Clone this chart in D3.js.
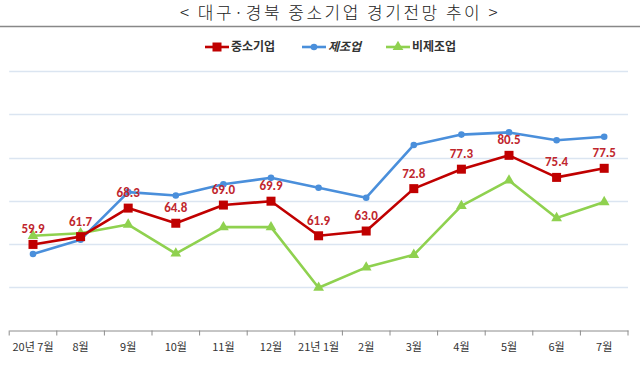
<!DOCTYPE html>
<html>
<head>
<meta charset="utf-8">
<script src="https://cdn.jsdelivr.net/npm/d3@7"></script>
<style>
  body { margin: 0; background: #fff; }
  svg { display: block; }
</style>
</head>
<body>
<svg id="chart" width="640" height="365"></svg>
<script>
// month labels along the x axis
var months = ["20년 7월", "8월", "9월", "10월", "11월", "12월", "21년 1월", "2월", "3월", "4월", "5월", "6월", "7월"];

// SME outlook index (labelled series)
var smeValues = [59.9, 61.7, 68.3, 64.8, 69.0, 69.9, 61.9, 63.0, 72.8, 77.3, 80.5, 75.4, 77.5];
// manufacturing
var mfgValues = [57.7, 61.0, 72.0, 71.2, 73.8, 75.3, 73.0, 70.7, 82.9, 85.3, 85.8, 84.0, 84.8];
// non-manufacturing
var nonMfgValues = [61.9, 62.5, 64.5, 57.8, 63.9, 63.9, 49.9, 54.6, 57.5, 68.8, 74.7, 66.0, 69.7];

var yTicks = [40, 50, 60, 70, 80, 90, 100];

var svg = d3.select("#chart");

var plotLeft = 9.2, plotRight = 628, plotTop = 71, plotBottom = 330.5;

var x = d3.scaleBand().domain(months).range([plotLeft, plotRight]);
var y = d3.scaleLinear().domain([40, 100]).range([plotBottom, plotTop]);

var series = [
  { name: "중소기업", values: smeValues, color: "#c00000", marker: "square", italic: false },
  { name: "제조업", values: mfgValues, color: "#4a8fdb", marker: "circle", italic: true },
  { name: "비제조업", values: nonMfgValues, color: "#8fd14f", marker: "triangle", italic: false }
];

// title and the rule under it
svg.append("text")
  .attr("x", 340)
  .attr("y", 19)
  .attr("text-anchor", "middle")
  .attr("font-family", "'Noto Sans CJK KR', sans-serif")
  .attr("font-size", 17)
  .attr("font-weight", 300)
  .attr("letter-spacing", 2.5)
  .attr("fill", "#222")
  .text("< 대구·경북  중소기업  경기전망  추이 >");

svg.append("line")
  .attr("x1", 0).attr("x2", 640)
  .attr("y1", 26.5).attr("y2", 26.5)
  .attr("stroke", "#888").attr("stroke-width", 1.5);

// horizontal gridlines
svg.append("g")
  .selectAll("line")
  .data(yTicks.slice(1))
  .join("line")
  .attr("x1", plotLeft).attr("x2", plotRight)
  .attr("y1", function (d) { return Math.round(y(d)) + 0.5; })
  .attr("y2", function (d) { return Math.round(y(d)) + 0.5; })
  .attr("stroke", "#dbe5f1").attr("stroke-width", 1.5);

// x axis with ticks between the categories
var xAxis = d3.axisBottom(x).tickSize(0).tickPadding(13);
var gx = svg.append("g")
  .attr("transform", "translate(0," + plotBottom + ")")
  .call(xAxis);
gx.select(".domain").attr("stroke", "#8c8c8c");
gx.selectAll("text")
  .attr("font-family", "'Noto Sans CJK KR', sans-serif")
  .attr("font-size", 11)
  .attr("fill", "#333");

var boundaries = months.map(function (m) { return x(m); }).concat([plotRight]);
svg.append("g")
  .selectAll("line")
  .data(boundaries)
  .join("line")
  .attr("x1", function (d) { return d; })
  .attr("x2", function (d) { return d; })
  .attr("y1", plotBottom).attr("y2", plotBottom + 5)
  .attr("stroke", "#8c8c8c");

var cx = function (d, i) { return x(months[i]) + x.bandwidth() / 2; };

var line = d3.line()
  .x(function (d, i) { return cx(d, i); })
  .y(function (d) { return y(d); });

function drawMarker(sel, type, color) {
  if (type === "square") {
    sel.append("rect")
      .attr("x", -4.5).attr("y", -4.5)
      .attr("width", 9).attr("height", 9)
      .attr("fill", color);
  } else if (type === "circle") {
    sel.append("circle").attr("r", 3.3).attr("fill", color);
  } else {
    sel.append("path")
      .attr("d", d3.symbol().type(d3.symbolTriangle).size(50)())
      .attr("fill", color);
  }
}

// draw lines in back-to-front order: non-mfg, mfg, sme
[series[2], series[1], series[0]].forEach(function (s) {
  var g = svg.append("g");
  g.append("path")
    .datum(s.values)
    .attr("fill", "none")
    .attr("stroke", s.color)
    .attr("stroke-width", 2.6)
    .attr("stroke-linejoin", "round")
    .attr("d", line);

  g.selectAll("g.marker")
    .data(s.values)
    .join("g")
    .attr("class", "marker")
    .attr("transform", function (d, i) { return "translate(" + cx(d, i) + "," + y(d) + ")"; })
    .each(function () { drawMarker(d3.select(this), s.marker, s.color); });
});

// value labels for the SME series
svg.append("g")
  .selectAll("text")
  .data(smeValues)
  .join("text")
  .attr("x", function (d, i) { return cx(d, i); })
  .attr("y", function (d) { return y(d) - 11; })
  .attr("text-anchor", "middle")
  .attr("font-family", "Calibri, 'Open Sans', 'Liberation Sans', sans-serif")
  .attr("font-size", 13)
  .attr("font-weight", "bold")
  .attr("fill", "#c0262d")
  .text(function (d) { return d.toFixed(1); });

// legend
var legendX = [205, 302, 386];
var legend = svg.append("g").selectAll("g")
  .data(series)
  .join("g")
  .attr("transform", function (d, i) { return "translate(" + legendX[i] + ",47)"; });

legend.append("line")
  .attr("x1", 0).attr("x2", 24)
  .attr("stroke", function (d) { return d.color; })
  .attr("stroke-width", 2.6);

legend.each(function (d) {
  var m = d3.select(this).append("g").attr("transform", "translate(12,0)");
  drawMarker(m, d.marker, d.color);
});

legend.append("text")
  .attr("x", 26)
  .attr("dy", "0.35em")
  .attr("font-family", "'Noto Sans CJK KR', sans-serif")
  .attr("font-size", 12)
  .attr("font-weight", "bold")
  .attr("font-style", function (d) { return d.italic ? "italic" : "normal"; })
  .attr("fill", "#333")
  .text(function (d) { return d.name; });
</script>
</body>
</html>
